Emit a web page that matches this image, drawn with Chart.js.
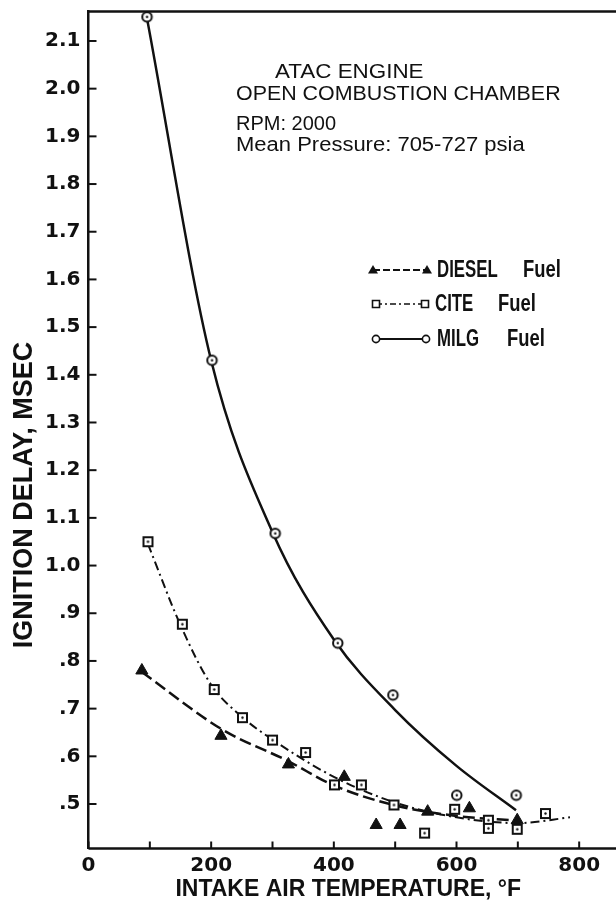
<!DOCTYPE html>
<html><head><meta charset="utf-8">
<script src="https://cdn.jsdelivr.net/npm/chart.js@4.4.1/dist/chart.umd.min.js"></script>
<style>html,body{margin:0;padding:0;background:#fff;}#wrap{width:616px;height:906px;position:relative;}</style>
</head><body><div id="wrap"><canvas id="c" width="616" height="906"></canvas></div>
<script>
// measured points (intake air temperature °F, ignition delay msec)
const dieselTemp = [87, 216, 326, 417, 469, 508, 553, 621, 699];
const dieselDelay = [0.780, 0.643, 0.583, 0.557, 0.456, 0.456, 0.484, 0.491, 0.466];
const citeTemp = [97, 153, 205, 251, 300, 354, 401, 445, 498, 548, 597, 652, 652, 699, 745];
const citeDelay = [1.050, 0.877, 0.740, 0.681, 0.634, 0.608, 0.540, 0.540, 0.498, 0.439, 0.489, 0.466, 0.449, 0.447, 0.480];
const milgTemp = [95, 201, 304, 406, 496, 600, 697];
const milgDelay = [2.151, 1.431, 1.068, 0.838, 0.729, 0.519, 0.519];
// faired curves as drawn on the figure
const dieselFitTemp = [87, 217, 327, 398, 500, 600, 700];
const dieselFitDelay = [0.777, 0.657, 0.589, 0.540, 0.497, 0.475, 0.465];
const citeFitTemp = [97, 150, 200, 250, 300, 400, 500, 600, 700, 785];
const citeFitDelay = [1.045, 0.875, 0.750, 0.683, 0.635, 0.557, 0.503, 0.472, 0.460, 0.472];
const milgFitTemp = [95, 200, 300, 400, 500, 600, 697];
const milgFitDelay = [2.15, 1.43, 1.07, 0.845, 0.697, 0.58, 0.487];
// axes
const xTickValues = [0, 100, 200, 300, 400, 500, 600, 700, 800];
const xTickLabels = ['0', '', '200', '', '400', '', '600', '', '800'];
const yTickValues = [0.5, 0.6, 0.7, 0.8, 0.9, 1.0, 1.1, 1.2, 1.3, 1.4, 1.5, 1.6, 1.7, 1.8, 1.9, 2.0, 2.1];
const yTickLabels = ['.5', '.6', '.7', '.8', '.9', '1.0', '1.1', '1.2', '1.3', '1.4', '1.5', '1.6', '1.7', '1.8', '1.9', '2.0', '2.1'];
const seriesNames = ['DIESEL', 'CITE', 'MILG'];
const xTitle = 'INTAKE AIR TEMPERATURE, °F';
const yTitle = 'IGNITION DELAY, MSEC';
const noteLines = ['ATAC ENGINE', 'OPEN COMBUSTION CHAMBER', 'RPM: 2000', 'Mean Pressure: 705-727 psia'];

const INK = '#111';
function pts(xs, ys) { return xs.map((x, i) => ({x: x, y: ys[i]})); }
function markerCanvas(kind, size, lw) {
  const s = size + lw * 2 + 2;
  const c = document.createElement('canvas');
  c.width = s; c.height = s;
  const g = c.getContext('2d');
  g.strokeStyle = INK; g.lineWidth = lw; g.fillStyle = '#fff';
  const m = s / 2;
  if (kind === 'circle') {
    g.beginPath(); g.arc(m, m, size / 2, 0, Math.PI * 2); g.fill(); g.stroke();
  } else {
    g.beginPath(); g.rect(m - size / 2, m - size / 2, size, size); g.fill(); g.stroke();
  }
  g.fillStyle = INK; g.beginPath(); g.arc(m, m, 1.2, 0, Math.PI * 2); g.fill();
  return c;
}
const circleImg = markerCanvas('circle', 9.5, 2);
const squareImg = markerCanvas('square', 9, 2);

function scaledText(ctx, text, x, y, sx) {
  ctx.save(); ctx.translate(x, y); ctx.scale(sx, 1); ctx.fillText(text, 0, 0); ctx.restore();
}

const decorPlugin = {
  id: 'decor',
  beforeDatasetsDraw(chart) {
    const {ctx, chartArea: a, scales: {x, y}} = chart;
    ctx.save();
    ctx.strokeStyle = INK; ctx.lineWidth = 2;
    yTickValues.forEach(v => {
      const p = y.getPixelForValue(v);
      ctx.beginPath(); ctx.moveTo(a.left, p); ctx.lineTo(a.left + 8, p); ctx.stroke();
    });
    xTickValues.forEach(v => {
      const p = x.getPixelForValue(v);
      ctx.beginPath(); ctx.moveTo(p, a.bottom); ctx.lineTo(p, a.bottom - 7); ctx.stroke();
    });
    ctx.lineWidth = 2.5;
    ctx.beginPath(); ctx.moveTo(a.left, a.top); ctx.lineTo(chart.width, a.top); ctx.stroke();
    ctx.beginPath(); ctx.moveTo(a.left, a.bottom); ctx.lineTo(chart.width, a.bottom); ctx.stroke();
    ctx.restore();
  },
  afterDraw(chart) {
    const {ctx} = chart;
    ctx.save();
    ctx.fillStyle = INK;
    ctx.font = 'bold 27px "Liberation Sans", Arial, sans-serif';
    ctx.textAlign = 'center'; ctx.textBaseline = 'middle';
    ctx.translate(25, 495); ctx.rotate(-Math.PI / 2);
    ctx.fillText(yTitle, 0, 0);
    ctx.restore();

    ctx.save();
    ctx.fillStyle = INK;
    ctx.textAlign = 'left'; ctx.textBaseline = 'alphabetic';
    ctx.font = '20px "Liberation Sans", Arial, sans-serif';
    scaledText(ctx, noteLines[0], 275, 78, 1.12);
    scaledText(ctx, noteLines[1], 236, 100, 1.07);
    scaledText(ctx, noteLines[2], 236, 130, 1.0);
    scaledText(ctx, noteLines[3], 236, 151, 1.1);

    const rows = [
      {y: 270, x1: 373, x2: 427, dash: [7, 3], lw: 2, name: seriesNames[0], tx: 437, fx: 523},
      {y: 304, x1: 376, x2: 425, dash: [6, 3, 2, 3], lw: 1.5, name: seriesNames[1], tx: 435, fx: 498},
      {y: 339, x1: 376, x2: 426, dash: [], lw: 2, name: seriesNames[2], tx: 437, fx: 507}
    ];
    rows.forEach((r, i) => {
      ctx.strokeStyle = INK; ctx.lineWidth = r.lw; ctx.setLineDash(r.dash);
      ctx.beginPath(); ctx.moveTo(r.x1, r.y); ctx.lineTo(r.x2, r.y); ctx.stroke();
      ctx.setLineDash([]);
      [r.x1, r.x2].forEach(px => {
        if (i === 0) {
          ctx.fillStyle = INK; ctx.beginPath();
          ctx.moveTo(px, r.y - 5); ctx.lineTo(px + 5, r.y + 3.5); ctx.lineTo(px - 5, r.y + 3.5); ctx.closePath(); ctx.fill();
        } else if (i === 1) {
          ctx.fillStyle = '#fff'; ctx.lineWidth = 1.6;
          ctx.beginPath(); ctx.rect(px - 3.5, r.y - 3.5, 7, 7); ctx.fill(); ctx.stroke();
        } else {
          ctx.fillStyle = '#fff'; ctx.lineWidth = 1.6;
          ctx.beginPath(); ctx.arc(px, r.y, 3.6, 0, Math.PI * 2); ctx.fill(); ctx.stroke();
        }
      });
      ctx.fillStyle = INK;
      ctx.font = 'bold 23px "Liberation Sans", Arial, sans-serif';
      ctx.textBaseline = 'middle';
      scaledText(ctx, r.name, r.tx, r.y + 1, 0.73);
      scaledText(ctx, 'Fuel', r.fx, r.y + 1, 0.8);
    });
    ctx.restore();
  }
};

const fitLine = (xs, ys, dash, lw) => ({
  type: 'line', data: pts(xs, ys), borderColor: INK, borderWidth: lw, borderDash: dash,
  pointRadius: 0, pointHoverRadius: 0, fill: false, cubicInterpolationMode: 'monotone', showLine: true
});

new Chart(document.getElementById('c'), {
  type: 'scatter',
  data: {
    datasets: [
      {label: 'DIESEL Fuel', data: pts(dieselTemp, dieselDelay), pointStyle: 'triangle', pointRadius: 7,
       backgroundColor: INK, borderColor: INK, borderWidth: 1},
      {label: 'CITE Fuel', data: pts(citeTemp, citeDelay), pointStyle: squareImg, pointRadius: 6},
      {label: 'MILG Fuel', data: pts(milgTemp, milgDelay), pointStyle: circleImg, pointRadius: 6},
      fitLine(dieselFitTemp, dieselFitDelay, [12, 5], 2.5),
      fitLine(citeFitTemp, citeFitDelay, [9, 4, 2, 4], 2),
      fitLine(milgFitTemp, milgFitDelay, [], 2.5)
    ]
  },
  options: {
    responsive: false, animation: false, devicePixelRatio: 1,
    layout: {padding: {left: 0, top: 11.5, right: 0, bottom: 0}},
    plugins: {legend: {display: false}, tooltip: {enabled: false}},
    scales: {
      x: {
        type: 'linear', min: 0, max: 847,
        afterFit: s => { s.height = 57.5; s.paddingLeft = 0; s.paddingRight = 0; },
        afterBuildTicks: s => { s.ticks = xTickValues.map(v => ({value: v})).concat([{value: s.max}]); },
        grid: {display: false, drawTicks: false},
        border: {display: false},
        ticks: {autoSkip: false, maxRotation: 0, padding: 5, color: INK,
          font: {family: '"DejaVu Sans"', weight: 'bold', size: 20},
          callback: (v) => { const i = xTickValues.indexOf(Math.round(v)); return i >= 0 ? xTickLabels[i] : ''; }},
        title: {display: true, text: xTitle, color: INK,
          font: {family: '"Liberation Sans"', weight: 'bold', size: 23}, padding: {top: 0, bottom: 3}}
      },
      y: {
        type: 'linear', min: 0.4067, max: 2.1618,
        afterFit: s => { s.width = 88.5; s.paddingTop = 0; s.paddingBottom = 0; s.paddingLeft = 0; s.paddingRight = 0; },
        afterBuildTicks: s => { s.ticks = yTickValues.map(v => ({value: v})); },
        grid: {display: false, drawTicks: false},
        border: {display: true, color: INK, width: 2.5},
        ticks: {autoSkip: false, padding: 8, color: INK,
          font: {family: '"DejaVu Sans"', weight: 'bold', size: 20},
          callback: (v) => { const i = yTickValues.findIndex(t => Math.abs(t - v) < 1e-6); return i >= 0 ? yTickLabels[i] : ''; }}
      }
    }
  },
  plugins: [decorPlugin]
});
</script></body></html>
